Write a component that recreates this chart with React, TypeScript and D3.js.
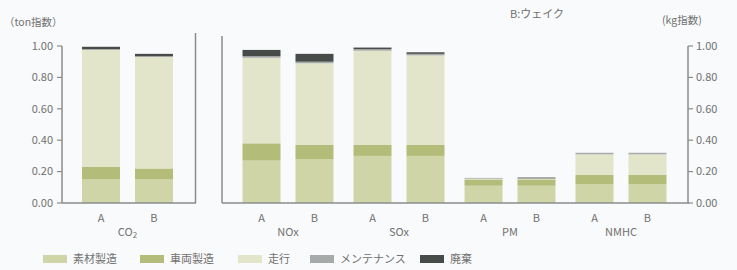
import * as d3 from "d3";

const groupsLeft = ["CO2"];
const groupsRight = ["NOx", "SOx", "PM", "NMHC"];
const vehicles = ["A", "B"];
const yTicks = [0, 0.2, 0.4, 0.6, 0.8, 1.0];

const seriesNames = ["素材製造", "車両製造", "走行", "メンテナンス", "廃棄"];
// order: CO2 A,B / NOx A,B / SOx A,B / PM A,B / NMHC A,B
const sozai = [0.15, 0.15, 0.27, 0.28, 0.3, 0.3, 0.11, 0.11, 0.12, 0.12];
const sharyo = [0.08, 0.07, 0.11, 0.09, 0.07, 0.07, 0.04, 0.04, 0.06, 0.06];
const soko = [0.745, 0.71, 0.545, 0.52, 0.6, 0.57, 0.005, 0.005, 0.13, 0.13];
const maint = [0.005, 0.005, 0.01, 0.01, 0.01, 0.01, 0.005, 0.002, 0.01, 0.01];
const haiki = [0.015, 0.015, 0.04, 0.05, 0.01, 0.01, 0, 0.005, 0, 0];

const colors = ["#cfd5a6", "#b3bc78", "#e2e5c9", "#a6aaa8", "#474c49"];

const W = 737;
const H = 270;
const font = "'Noto Sans CJK JP', 'Noto Sans', sans-serif";
const textCol = "#707070";
const axisCol = "#8a8c8c";

export default function App() {
  const y = d3.scaleLinear().domain([0, 1]).range([203, 46]);
  const leftX = d3.scaleBand().domain(groupsLeft).range([72, 183]);
  const rightX = d3.scaleBand().domain(groupsRight).range([232.5, 676.5]);
  const inner = d3
    .scaleBand()
    .domain(vehicles)
    .range([0, 111])
    .paddingInner(0.283)
    .paddingOuter(0.189);

  const allGroups = [...groupsLeft, ...groupsRight];
  const groupX = (g: string) =>
    groupsLeft.includes(g) ? (leftX(g) as number) : (rightX(g) as number);

  const rows = allGroups.flatMap((g) => vehicles.map((v) => ({ g, v })));
  const table = rows.map((r, i) => ({
    ...r,
    素材製造: sozai[i],
    車両製造: sharyo[i],
    走行: soko[i],
    メンテナンス: maint[i],
    廃棄: haiki[i],
  }));
  const stacked = d3.stack<any>().keys(seriesNames)(table);

  const fmt = d3.format(".2f");

  return (
    <svg width={W} height={H} style={{ position: "absolute", left: 0, top: 0, background: "#f9fafb" }} fontFamily={font}>
      <rect width={W} height={H} fill="#f9fafb" />
      <text x={510} y={18} fontSize={11} fill={textCol}>B:ウェイク</text>
      <text x={4} y={26} fontSize={10.5} fill={textCol}>（ton指数）</text>
      <text x={662} y={24} fontSize={10.5} fill={textCol}>(kg指数)</text>

      {/* bars */}
      {stacked.map((s, si) => (
        <g key={si} fill={colors[si]}>
          {s.map((d, i) => {
            const r = table[i];
            const x = groupX(r.g) + (inner(r.v) as number);
            const h = y(d[0]) - y(d[1]);
            if (h <= 0) return null;
            return <rect key={i} x={x} y={y(d[1])} width={inner.bandwidth()} height={h} />;
          })}
        </g>
      ))}

      {/* left axis */}
      <line x1={62} x2={62} y1={y(1)} y2={y(0)} stroke={axisCol} strokeWidth={1.5} />
      {yTicks.map((t) => (
        <g key={t}>
          <line x1={57} x2={62} y1={y(t)} y2={y(t)} stroke={axisCol} strokeWidth={1.2} />
          <text x={53} y={y(t)} dy="0.35em" textAnchor="end" fontSize={11} fill={textCol}>
            {fmt(t)}
          </text>
        </g>
      ))}
      <line x1={62} x2={196} y1={y(0)} y2={y(0)} stroke={axisCol} strokeWidth={1.5} />
      <line x1={195.5} x2={195.5} y1={33} y2={y(0)} stroke={axisCol} strokeWidth={1.5} />

      {/* right panel */}
      <line x1={222} x2={222} y1={36} y2={y(0)} stroke={axisCol} strokeWidth={1.5} />
      <line x1={222} x2={689} y1={y(0)} y2={y(0)} stroke={axisCol} strokeWidth={1.5} />
      <line x1={688} x2={688} y1={y(1)} y2={y(0)} stroke={axisCol} strokeWidth={1.5} />
      {yTicks.map((t) => (
        <g key={"r" + t}>
          <line x1={688} x2={693} y1={y(t)} y2={y(t)} stroke={axisCol} strokeWidth={1.2} />
          <text x={696} y={y(t)} dy="0.35em" fontSize={11} fill={textCol}>
            {fmt(t)}
          </text>
        </g>
      ))}

      {/* x labels */}
      {rows.map((r, i) => (
        <text
          key={"v" + i}
          x={groupX(r.g) + (inner(r.v) as number) + inner.bandwidth() / 2}
          y={222}
          textAnchor="middle"
          fontSize={11}
          fill={textCol}
        >
          {r.v}
        </text>
      ))}
      {allGroups.map((g) => (
        <text key={g} x={groupX(g) + 55.5} y={236} textAnchor="middle" fontSize={11} fill={textCol}>
          {g === "CO2" ? (
            <>
              CO<tspan fontSize={8} dy={2}>2</tspan>
            </>
          ) : (
            g
          )}
        </text>
      ))}

      {/* legend */}
      {seriesNames.map((n, i) => {
        const lx = [43, 140, 238, 310, 420][i];
        return (
          <g key={n}>
            <rect x={lx} y={255} width={24} height={8} fill={colors[i]} />
            <text x={lx + 30} y={259} dy="0.35em" fontSize={11} fill={textCol}>
              {n}
            </text>
          </g>
        );
      })}
    </svg>
  );
}
